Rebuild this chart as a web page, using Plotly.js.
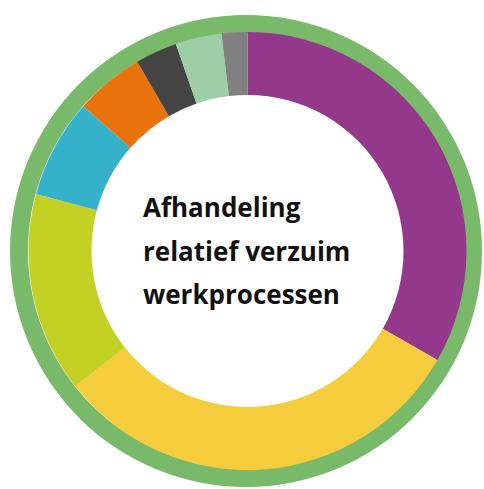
<!DOCTYPE html>
<html>
<head>
<meta charset="utf-8">
<script src="https://cdn.plot.ly/plotly-3.0.1.min.js"></script>
<style>html,body{margin:0;padding:0;background:#fff;}#chart{width:484px;height:489px;}</style>
</head>
<body>
<div id="chart"></div>
<script>
// Data (shares, percent)
const categories = ["Segment 1", "Segment 2", "Segment 3", "Segment 4", "Segment 5", "Segment 6", "Segment 7", "Segment 8"];
const shares = [33.3, 31.1, 14.8, 7.3, 5.1, 3.1, 3.4, 1.9];
const sliceColors = ["#93388A", "#F5CC3B", "#C2D124", "#35B1C9", "#E8730C", "#444444", "#9DCEA6", "#808080"];
const centerLines = ["Afhandeling", "relatief verzuim", "werkprocessen"];
const ringLabel = ["Totaal"];
const ringValue = [100];

const W = 484, H = 489;
const px = v => v / W;
const py = v => 1 - v / H;

const outerRing = {
  type: "pie",
  labels: ringLabel,
  values: ringValue,
  marker: { colors: ["#79B96A"], line: { width: 0 } },
  hole: 218 / 236,
  textinfo: "none",
  hoverinfo: "skip",
  sort: false,
  showlegend: false,
  domain: { x: [px(10), px(482)], y: [py(487), py(15)] }
};

const donut = {
  type: "pie",
  labels: categories,
  values: shares,
  marker: { colors: sliceColors, line: { width: 0 } },
  hole: 156 / 219,
  textinfo: "none",
  sort: false,
  direction: "clockwise",
  rotation: 0,
  showlegend: false,
  domain: { x: [px(28.5), px(466.5)], y: [py(470), py(32)] }
};

const lineY = [207.5, 250.5, 293.5];
const annotations = centerLines.map((t, i) => ({
  text: "<b>" + t + "</b>",
  x: px(141), y: py(lineY[i]),
  xref: "paper", yref: "paper",
  xanchor: "left", yanchor: "middle",
  showarrow: false,
  font: { family: "'Open Sans', sans-serif", size: 26, color: "#111111" }
}));

const layout = {
  width: W, height: H,
  margin: { l: 0, r: 0, t: 0, b: 0 },
  paper_bgcolor: "#ffffff",
  plot_bgcolor: "#ffffff",
  showlegend: false,
  annotations: annotations
};

Plotly.newPlot("chart", [outerRing, donut], layout, { displayModeBar: false, staticPlot: true });
</script>
</body>
</html>
